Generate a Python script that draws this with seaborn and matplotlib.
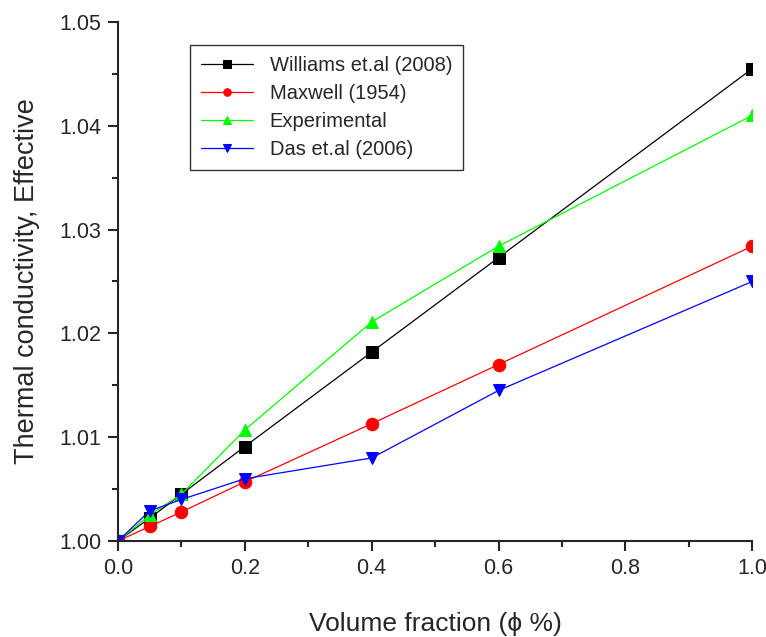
import numpy as np
import pandas as pd
import matplotlib
matplotlib.use("Agg")
import matplotlib.pyplot as plt
import seaborn as sns
from matplotlib.ticker import MultipleLocator

# ---- data ----
phi = [0.0, 0.05, 0.1, 0.2, 0.4, 0.6, 1.0]
williams = [1.0000, 1.0022, 1.0045, 1.0091, 1.0182, 1.0273, 1.0455]
maxwell = [1.0000, 1.0014, 1.0028, 1.0057, 1.0113, 1.0170, 1.0284]
experimental = [1.0000, 1.0025, 1.0045, 1.0107, 1.0211, 1.0284, 1.0410]
das = [1.0000, 1.0029, 1.0040, 1.0060, 1.0080, 1.0145, 1.0250]

series_names = ["Williams et.al (2008)", "Maxwell (1954)", "Experimental", "Das et.al (2006)"]
series_vals = [williams, maxwell, experimental, das]
colors = ["black", "red", "#00ff00", "blue"]
markers = ["s", "o", "^", "v"]

sns.set_style("ticks")
plt.rcParams['font.family'] = ['Liberation Sans', 'DejaVu Sans']

fig = plt.figure(figsize=(7.66, 6.37), dpi=100)
ax = fig.add_axes([0.154, 0.1507, 0.828, 0.8148])

for name, vals, c, m in zip(series_names, series_vals, colors, markers):
    df = pd.DataFrame({"phi": phi, "k": vals})
    sns.lineplot(data=df, x="phi", y="k", ax=ax, color=c, marker=m, markersize=9,
                 markeredgecolor=c, linewidth=0.9, label=name)

ax.set_xlim(0, 1.0)
ax.set_ylim(1.0, 1.05)
ax.xaxis.set_major_locator(MultipleLocator(0.2))
ax.xaxis.set_minor_locator(MultipleLocator(0.1))
ax.yaxis.set_major_locator(MultipleLocator(0.01))
ax.yaxis.set_minor_locator(MultipleLocator(0.005))
ax.xaxis.set_major_formatter(plt.FormatStrFormatter("%.1f"))
ax.yaxis.set_major_formatter(plt.FormatStrFormatter("%.2f"))
ax.tick_params(which="major", direction="out", length=7, width=1.5, labelsize=15.5, pad=5)
ax.tick_params(which="minor", direction="out", length=4, width=1.5)
sns.despine(ax=ax)
for s in ["left", "bottom"]:
    ax.spines[s].set_linewidth(1.5)

ax.set_xlabel("Volume fraction (\u03d5 %)", fontsize=19, labelpad=24)
ax.set_ylabel("Thermal conductivity, Effective", fontsize=19.5, labelpad=14)

leg = ax.legend(loc="upper left", bbox_to_anchor=(0.1136, 0.956), borderaxespad=0,
                fontsize=14.5, frameon=True, fancybox=False, edgecolor="black",
                markerscale=0.6, handlelength=2.6, borderpad=0.55, labelspacing=0.45)
leg.get_frame().set_linewidth(1.0)

fig.savefig("out.png", dpi=100)
